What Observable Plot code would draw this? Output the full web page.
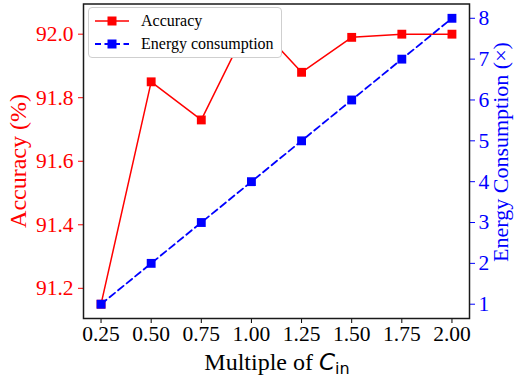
<!DOCTYPE html>
<html><head><meta charset="utf-8">
<script src="https://cdn.jsdelivr.net/npm/d3@7"></script>
<script src="https://cdn.jsdelivr.net/npm/@observablehq/plot@0.6"></script>
<style>
body{margin:0;background:#fff;}
#wrap{position:relative;width:514px;height:379px;}
#wrap > svg{position:absolute;left:0;top:0;z-index:0;}
.legend{position:absolute;z-index:5;left:88px;top:7px;width:194px;height:51px;border:1px solid #cfcfcf;border-radius:4px;background:#ffffff;font-family:"Liberation Serif";font-size:16px;box-sizing:border-box;color:#000;}
.legend .row{position:absolute;left:0;height:20px;display:flex;align-items:center;white-space:nowrap;}
.legend svg{margin-left:6px;margin-right:12px;}
</style></head><body><div id="wrap"></div>
<script>
const multiples = [0.25, 0.50, 0.75, 1.00, 1.25, 1.50, 1.75, 2.00];
const accuracy = [91.15, 91.85, 91.73, 92.05, 91.88, 91.99, 92.00, 92.00];
const energy = [1, 2, 3, 4, 5, 6, 7, 8];
const accTicks = [91.2, 91.4, 91.6, 91.8, 92.0];
const energyTicks = [1, 2, 3, 4, 5, 6, 7, 8];
const seriesNames = ["Accuracy", "Energy consumption"];

const RED = "#ff0000", BLUE = "#0000ff";
const FONT = "Liberation Serif";
const yDomain = [91.105, 92.095];
const eDomain = [0.65, 8.35];
const toAcc = d3.scaleLinear(eDomain, yDomain);

const accData = multiples.map((m, i) => ({m, v: accuracy[i]}));
const enData = multiples.map((m, i) => ({m, v: toAcc(energy[i])}));
const enTickPos = energyTicks.map(e => ({v: toAcc(e), label: String(e)}));

const chart = Plot.plot({
  width: 514, height: 379,
  marginLeft: 83, marginRight: 45, marginTop: 3.5, marginBottom: 61,
  style: {fontFamily: FONT, background: "#fff"},
  x: {domain: [0.1625, 2.0875]},
  y: {domain: yDomain},
  marks: [
    Plot.axisX(multiples, {tickFormat: () => "", tickSize: 5, stroke: "#000", label: null}),
    Plot.axisY(accTicks, {anchor: "left", tickFormat: () => "", tickSize: 5, stroke: RED, label: null}),
    Plot.axisY(enTickPos.map(d => d.v), {anchor: "right", tickFormat: () => "", tickSize: 5, stroke: BLUE, label: null}),
    Plot.text(multiples, {x: d => d, frameAnchor: "bottom", dy: 22.5, text: d => d.toFixed(2), fontFamily: FONT, fontSize: 21.5, fill: "#000"}),
    Plot.text(accTicks, {y: d => d, frameAnchor: "left", dx: -10, textAnchor: "end", text: d => d.toFixed(1), fontFamily: FONT, fontSize: 21.5, fill: RED}),
    Plot.text(enTickPos, {y: "v", frameAnchor: "right", dx: 9, textAnchor: "start", text: "label", fontFamily: FONT, fontSize: 21.5, fill: BLUE}),
    Plot.line(accData, {x: "m", y: "v", stroke: RED, strokeWidth: 1.5}),
    Plot.dot(accData, {x: "m", y: "v", symbol: "square", r: 5, fill: RED}),
    Plot.line(enData, {x: "m", y: "v", stroke: BLUE, strokeWidth: 1.8, strokeDasharray: "7,4"}),
    Plot.dot(enData, {x: "m", y: "v", symbol: "square", r: 5, fill: BLUE}),
    Plot.frame({stroke: "#1a1a1a", strokeWidth: 1.5})
  ]
});

const svg = d3.select(chart);
// x label
const xl = svg.append("text").attr("x", 277).attr("y", 370).attr("text-anchor", "middle")
  .attr("style", "font-family:'Liberation Serif';font-size:24px").attr("fill", "#000");
xl.append("tspan").text("Multiple of ");
xl.append("tspan").attr("style", "font-family:'DejaVu Sans';font-style:italic;font-size:23px").text("C");
xl.append("tspan").attr("style", "font-family:'DejaVu Sans';font-size:16px").attr("dy", 4).text("in");
// left label
svg.append("text").attr("transform", "translate(18,161) rotate(-90)").attr("text-anchor", "middle").attr("dy", "0.35em")
  .attr("style", "font-family:'Liberation Serif';font-size:24px").attr("fill", RED).text("Accuracy (%)");
// right label
svg.append("text").attr("transform", "translate(500,152) rotate(-90)").attr("text-anchor", "middle").attr("dy", "0.35em")
  .attr("style", "font-family:'Liberation Serif';font-size:22px").attr("fill", BLUE).text("Energy Consumption (×)");

const wrap = document.getElementById("wrap");
wrap.appendChild(chart);

// legend
const leg = document.createElement("div");
leg.className = "legend";
const styles = [{c: RED, dash: null}, {c: BLUE, dash: "6,3.5"}];
seriesNames.forEach((name, i) => {
  const row = document.createElement("div");
  row.className = "row";
  row.style.top = (3 + i * 23) + "px";
  const s = styles[i];
  row.innerHTML = `<svg width="34" height="12"><line x1="0" x2="34" y1="6" y2="6" stroke="${s.c}" stroke-width="${i ? 1.8 : 1.5}" ${s.dash ? `stroke-dasharray="${s.dash}"` : ""}/><rect x="12.5" y="1.5" width="9" height="9" fill="${s.c}"/></svg><span>${name}</span>`;
  leg.appendChild(row);
});
wrap.appendChild(leg);
</script>
</body></html>
